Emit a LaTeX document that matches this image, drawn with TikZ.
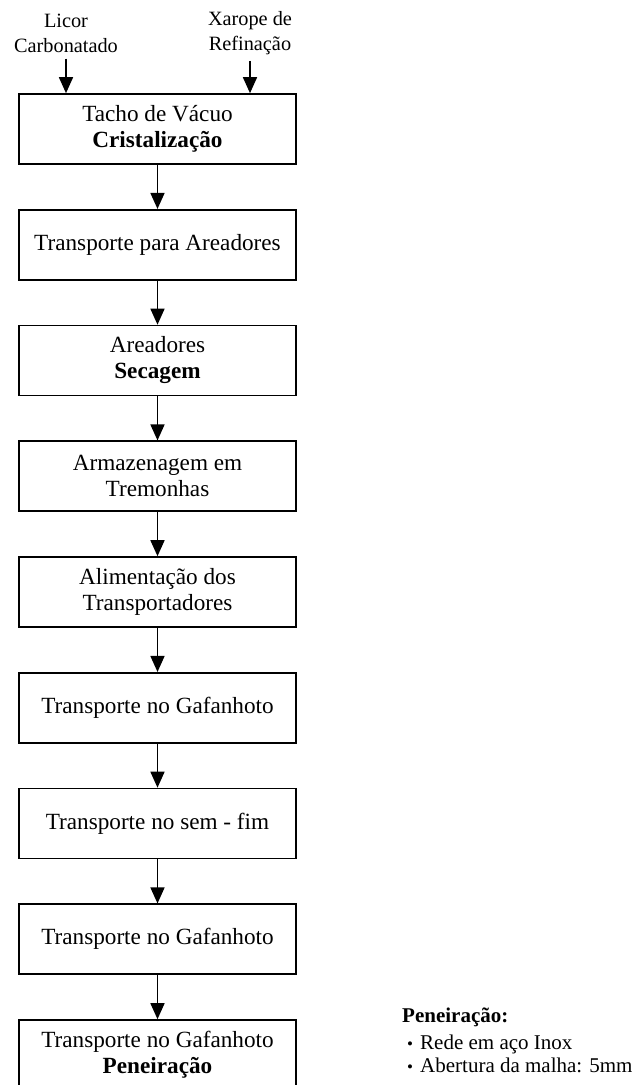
\documentclass[tikz,border=0pt]{standalone}
\usepackage{fontspec}
\setmainfont{Liberation Serif}
\usetikzlibrary{arrows.meta}
\begin{document}
\begin{tikzpicture}[x=1pt,y=-1pt,
  stage/.style={draw, line width=1.6pt, minimum width=277pt, minimum height=70pt,
    inner sep=0pt, align=center, font=\fontsize{23.2}{26}\selectfont},
  flow/.style={line width=1.5pt, -{Triangle[width=14pt,length=16pt]}},
  feed/.style={align=center, inner sep=0pt, font=\fontsize{20.3}{25}\selectfont},
  note/.style={anchor=base west, inner sep=0pt, font=\fontsize{21}{23}\selectfont},
  dot/.style={anchor=base, inner sep=0pt, font=\fontsize{17}{17}\selectfont}]
\path[use as bounding box] (0,0) rectangle (638,1085);
\clip (0,0) rectangle (638,1085);

% inputs to the vacuum pan
\node[feed] (licor) at (66,33) {Licor\\Carbonatado};
\node[feed] (xarope) at (250,33) {Xarope de\\Refinação};

% process stages, top to bottom
\node[stage] (s1) at (157.5,129)    {Tacho de Vácuo\\\textbf{Cristalização}};
\node[stage] (s2) at (157.5,244.75) {Transporte para Areadores};
\node[stage] (s3) at (157.5,360.5)  {Areadores\\\textbf{Secagem}};
\node[stage] (s4) at (157.5,476.25) {Armazenagem em\\Tremonhas};
\node[stage] (s5) at (157.5,592)    {Alimentação dos\\Transportadores};
\node[stage] (s6) at (157.5,707.75) {Transporte no Gafanhoto};
\node[stage] (s7) at (157.5,823.5)  {Transporte no sem - fim};
\node[stage] (s8) at (157.5,939.25) {Transporte no Gafanhoto};
\node[stage] (s9) at (157.5,1055)   {Transporte no Gafanhoto\\\textbf{Peneiração}};

% feed arrows
\draw[flow] ([yshift=-6pt]licor.south) -- (licor.south |- s1.north);
\draw[flow] ([yshift=-6pt]xarope.south) -- (xarope.south |- s1.north);

% flow between stages
\foreach \a/\b in {s1/s2,s2/s3,s3/s4,s4/s5,s5/s6,s6/s7,s7/s8,s8/s9}
  \draw[flow] (\a.south) -- (\b.north);

% screening notes
\node[note, font=\fontsize{21}{23}\selectfont\bfseries] (title) at (402,1022) {Peneiração:};
\node[dot] (d1) at (410,1049) {\textbullet};
\node[note] (n1) at (420,1049) {Rede em aço Inox};
\node[dot] (d2) at (410,1072) {\textbullet};
\node[note] (n2) at (420,1072) {Abertura da malha: 5mm};
\end{tikzpicture}
\end{document}
